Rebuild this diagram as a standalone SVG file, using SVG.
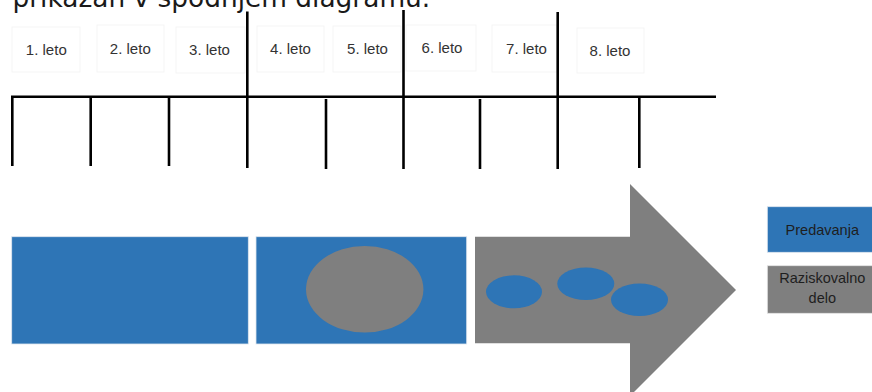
<svg xmlns="http://www.w3.org/2000/svg" width="872" height="392" viewBox="0 0 872 392">
<style>
.bg{fill:#ffffff}
.ln{stroke:#000;stroke-width:2.6;fill:none}
.yb{fill:#ffffff;stroke:#f5f5f5;stroke-width:1}
.yt{font-family:"Liberation Sans",Arial,sans-serif;font-size:15px;fill:#333333;text-anchor:middle}
.blue{fill:#2e75b6}
.grey{fill:#7f7f7f}
.lt{font-family:"Liberation Sans",Arial,sans-serif;font-size:14.5px;fill:#1e1e1e;text-anchor:middle}
.hd{font-family:"DejaVu Sans",Verdana,sans-serif;font-size:26.4px;fill:#1a1a1a}
</style>
<rect class="bg" x="0" y="0" width="872" height="392"/>
<text class="hd" x="12.5" y="7">prikazan v spodnjem diagramu.</text>

<g id="timeline">
<g id="year-labels">
<g id="y1"><rect class="yb" x="12" y="27" width="68" height="45"/><text class="yt" x="46.3" y="55">1. leto</text></g>
<g id="y2"><rect class="yb" x="97" y="25" width="67" height="47"/><text class="yt" x="130.3" y="54.3">2. leto</text></g>
<g id="y3"><rect class="yb" x="176" y="27" width="69" height="46"/><text class="yt" x="209.5" y="55">3. leto</text></g>
<g id="y4"><rect class="yb" x="257" y="26" width="67" height="46"/><text class="yt" x="290.5" y="54.3">4. leto</text></g>
<g id="y5"><rect class="yb" x="333" y="26" width="68" height="46"/><text class="yt" x="367.5" y="54.3">5. leto</text></g>
<g id="y6"><rect class="yb" x="406" y="25" width="70" height="46"/><text class="yt" x="442" y="53.3">6. leto</text></g>
<g id="y7"><rect class="yb" x="492" y="25" width="65" height="47"/><text class="yt" x="526.5" y="54">7. leto</text></g>
<g id="y8"><rect class="yb" x="577" y="28" width="67" height="45"/><text class="yt" x="610" y="56">8. leto</text></g>
</g>
<g id="connectors">
<line class="ln" x1="11" y1="96.7" x2="716" y2="96.7"/>
<line class="ln" x1="12.3" y1="96" x2="12.3" y2="166"/>
<line class="ln" x1="90.7" y1="96" x2="90.7" y2="166"/>
<line class="ln" x1="169" y1="96" x2="169" y2="166"/>
<line class="ln" x1="247.3" y1="11.5" x2="247.3" y2="168"/>
<line class="ln" x1="326" y1="99" x2="326" y2="169"/>
<line class="ln" x1="403.5" y1="10" x2="403.5" y2="169"/>
<line class="ln" x1="480" y1="99" x2="480" y2="169"/>
<line class="ln" x1="557.7" y1="12" x2="557.7" y2="169"/>
<line class="ln" x1="639.3" y1="98" x2="639.3" y2="168"/>
</g>
</g>

<g id="phase1"><rect class="blue" x="11.7" y="236.7" width="236.6" height="107.3" stroke="#dfe6ee" stroke-width="0.8"/></g>
<g id="phase2">
<rect class="blue" x="256" y="236.7" width="210.7" height="107.3" stroke="#dfe6ee" stroke-width="0.8"/>
<ellipse class="grey" cx="364.7" cy="289.3" rx="58.7" ry="43.3"/>
</g>
<g id="phase3">
<polygon class="grey" points="475,236.7 630,236.7 630,184 736,290 630,396 630,343.3 475,343.3"/>
<ellipse class="blue" cx="514" cy="291.8" rx="28" ry="16.5"/>
<ellipse class="blue" cx="585.8" cy="283.7" rx="28.5" ry="16.3"/>
<ellipse class="blue" cx="639.5" cy="299.7" rx="28.5" ry="16.3"/>
</g>

<g id="legend-predavanja">
<rect class="blue" x="767.3" y="206.7" width="106" height="45.6" stroke="#dfe6ee" stroke-width="0.8"/>
<text class="lt" x="822.3" y="235">Predavanja</text>
</g>
<g id="legend-raziskovalno">
<rect class="grey" x="767.3" y="265.7" width="106" height="47.6" stroke="#e6e6e6" stroke-width="0.8"/>
<text class="lt" x="822.3" y="283.3">Raziskovalno</text>
<text class="lt" x="822.3" y="303.3">delo</text>
</g>
</svg>
